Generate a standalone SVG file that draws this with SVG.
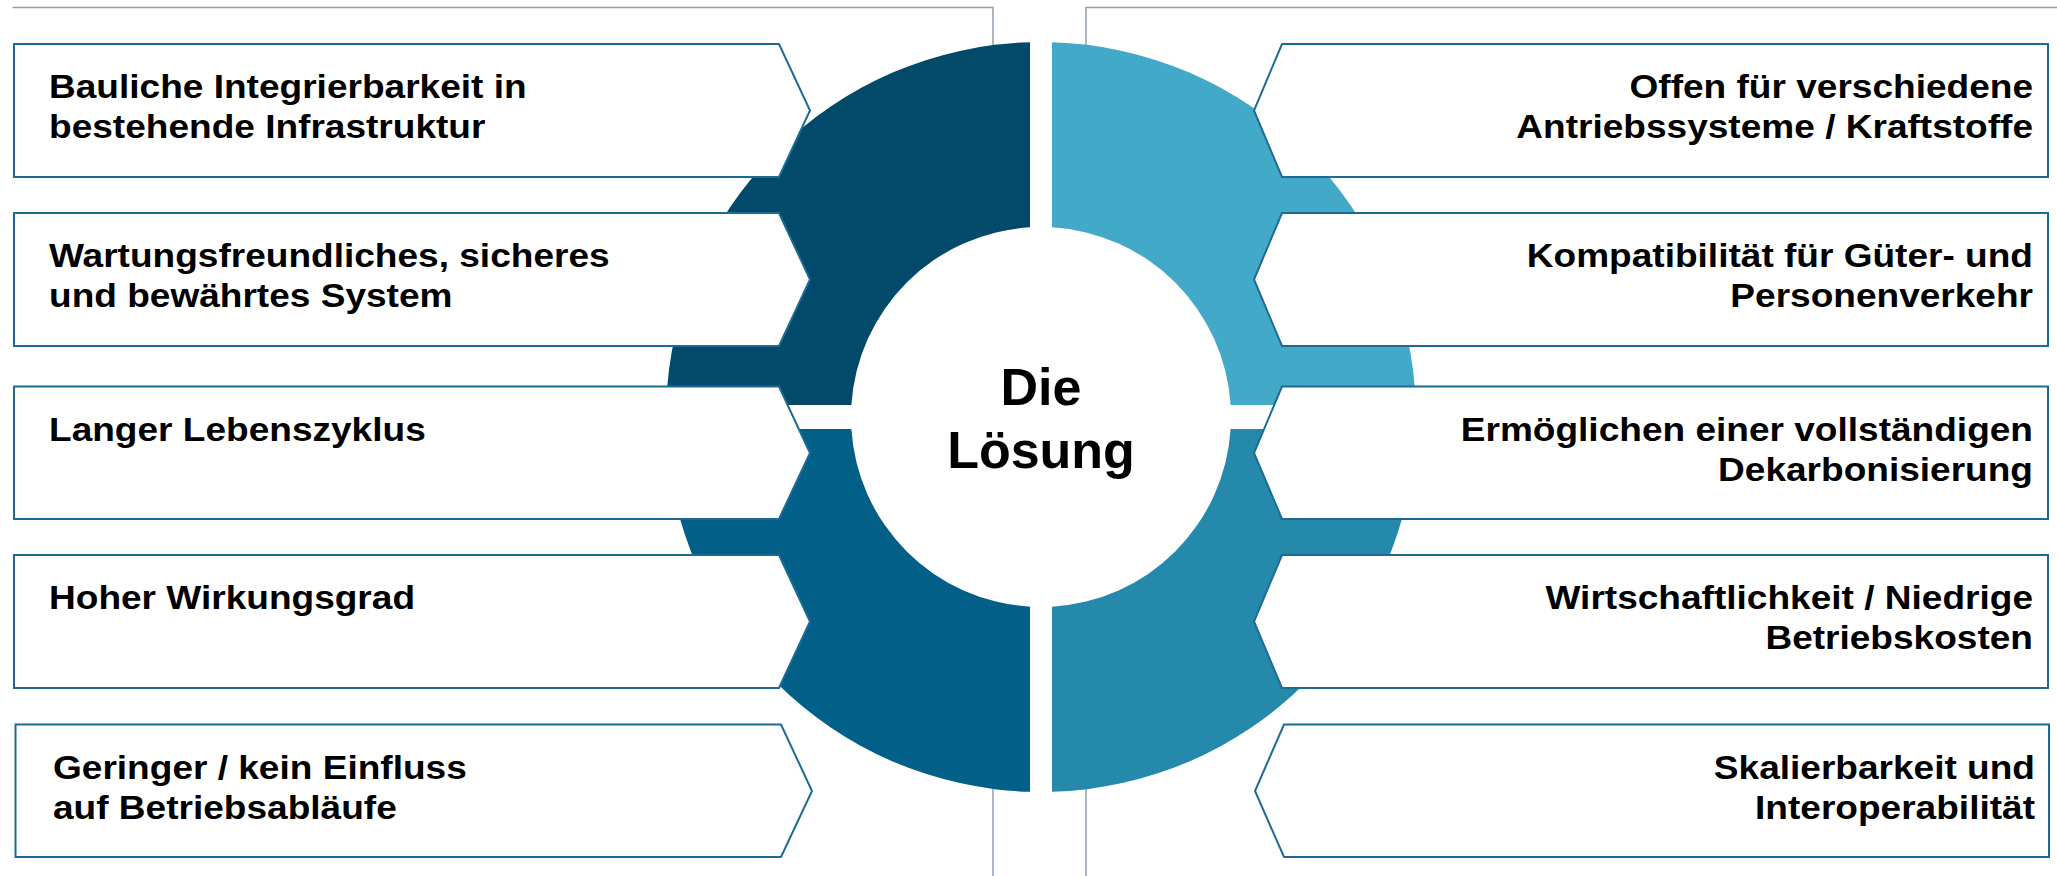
<svg xmlns="http://www.w3.org/2000/svg" width="2057" height="876" viewBox="0 0 2057 876">
  <style>
    .frame { fill: none; stroke: #8e9fb4; stroke-width: 1.5; }
    .box { fill: #ffffff; stroke: #1d6b95; stroke-width: 2; }
    .lbl { font-family: "Liberation Sans", Arial, sans-serif; font-weight: bold; font-size: 34px; fill: #000000; }
    .end { text-anchor: end; }
    .hub { font-family: "Liberation Sans", Arial, sans-serif; font-weight: bold; font-size: 52px; fill: #000000; text-anchor: middle; }
  </style>
  <rect width="2057" height="876" fill="#ffffff"/>

  <!-- thin bracket lines behind the ring -->
  <g id="frame">
    <path class="frame" d="M12.6,7.5 H993 V60 M993,780 V876"/>
    <path class="frame" d="M2057,7.5 H1086 V60 M1086,780 V876"/>
  </g>

  <!-- split ring, four quadrants -->
  <g id="ring">
    <path id="q-top-left" fill="#02496a" d="M1030,42.16 A375,375 0 0 0 666.19,405 L851.38,405 A190,190 0 0 1 1030,227.32 Z"/>
    <path id="q-top-right" fill="#43a9c8" d="M1052,42.16 A375,375 0 0 1 1415.81,405 L1230.62,405 A190,190 0 0 0 1052,227.32 Z"/>
    <path id="q-bottom-left" fill="#025f88" d="M666.19,429 A375,375 0 0 0 1030,791.84 L1030,606.68 A190,190 0 0 1 851.38,429 Z"/>
    <path id="q-bottom-right" fill="#2489aa" d="M1415.81,429 A375,375 0 0 1 1052,791.84 L1052,606.68 A190,190 0 0 0 1230.62,429 Z"/>
  </g>

  <g id="hub">
    <text class="hub" x="1041" y="405">Die</text>
    <text class="hub" x="1041" y="468">Lösung</text>
  </g>

  <!-- left column (labels are set slightly wide) -->
  <g id="left-1">
    <polygon class="box" points="14,44 779,44 810,110.5 779,177 14,177"/>
    <text class="lbl" transform="translate(49,98) scale(1.09,1)">Bauliche Integrierbarkeit in</text>
    <text class="lbl" transform="translate(49,138) scale(1.09,1)">bestehende Infrastruktur</text>
  </g>
  <g id="left-2">
    <polygon class="box" points="14,213 779,213 810,279.5 779,346 14,346"/>
    <text class="lbl" transform="translate(49,267) scale(1.09,1)">Wartungsfreundliches, sicheres</text>
    <text class="lbl" transform="translate(49,307) scale(1.09,1)">und bewährtes System</text>
  </g>
  <g id="left-3">
    <polygon class="box" points="14,386.5 779,386.5 810,453 779,519 14,519"/>
    <text class="lbl" transform="translate(49,441) scale(1.09,1)">Langer Lebenszyklus</text>
  </g>
  <g id="left-4">
    <polygon class="box" points="14,555 779,555 810,621.5 779,688 14,688"/>
    <text class="lbl" transform="translate(49,609) scale(1.09,1)">Hoher Wirkungsgrad</text>
  </g>
  <g id="left-5">
    <polygon class="box" points="15.5,724.5 781,724.5 812,791 781,857 15.5,857"/>
    <text class="lbl" transform="translate(53,779) scale(1.09,1)">Geringer / kein Einfluss</text>
    <text class="lbl" transform="translate(53,819) scale(1.09,1)">auf Betriebsabläufe</text>
  </g>

  <!-- right column -->
  <g id="right-1">
    <polygon class="box" points="1282,44 2048,44 2048,177 1282,177 1254,110.5"/>
    <text class="lbl end" transform="translate(2033,98) scale(1.09,1)">Offen für verschiedene</text>
    <text class="lbl end" transform="translate(2033,138) scale(1.09,1)">Antriebssysteme / Kraftstoffe</text>
  </g>
  <g id="right-2">
    <polygon class="box" points="1282,213 2048,213 2048,346 1282,346 1254,279.5"/>
    <text class="lbl end" transform="translate(2033,267) scale(1.09,1)">Kompatibilität für Güter- und</text>
    <text class="lbl end" transform="translate(2033,307) scale(1.09,1)">Personenverkehr</text>
  </g>
  <g id="right-3">
    <polygon class="box" points="1282,386.5 2048,386.5 2048,519 1282,519 1254,453"/>
    <text class="lbl end" transform="translate(2033,441) scale(1.09,1)">Ermöglichen einer vollständigen</text>
    <text class="lbl end" transform="translate(2033,481) scale(1.09,1)">Dekarbonisierung</text>
  </g>
  <g id="right-4">
    <polygon class="box" points="1282,555 2048,555 2048,688 1282,688 1254,621.5"/>
    <text class="lbl end" transform="translate(2033,609) scale(1.09,1)">Wirtschaftlichkeit / Niedrige</text>
    <text class="lbl end" transform="translate(2033,649) scale(1.09,1)">Betriebskosten</text>
  </g>
  <g id="right-5">
    <polygon class="box" points="1284,724.5 2049,724.5 2049,857 1284,857 1255,791"/>
    <text class="lbl end" transform="translate(2035,779) scale(1.09,1)">Skalierbarkeit und</text>
    <text class="lbl end" transform="translate(2035,819) scale(1.09,1)">Interoperabilität</text>
  </g>
</svg>
